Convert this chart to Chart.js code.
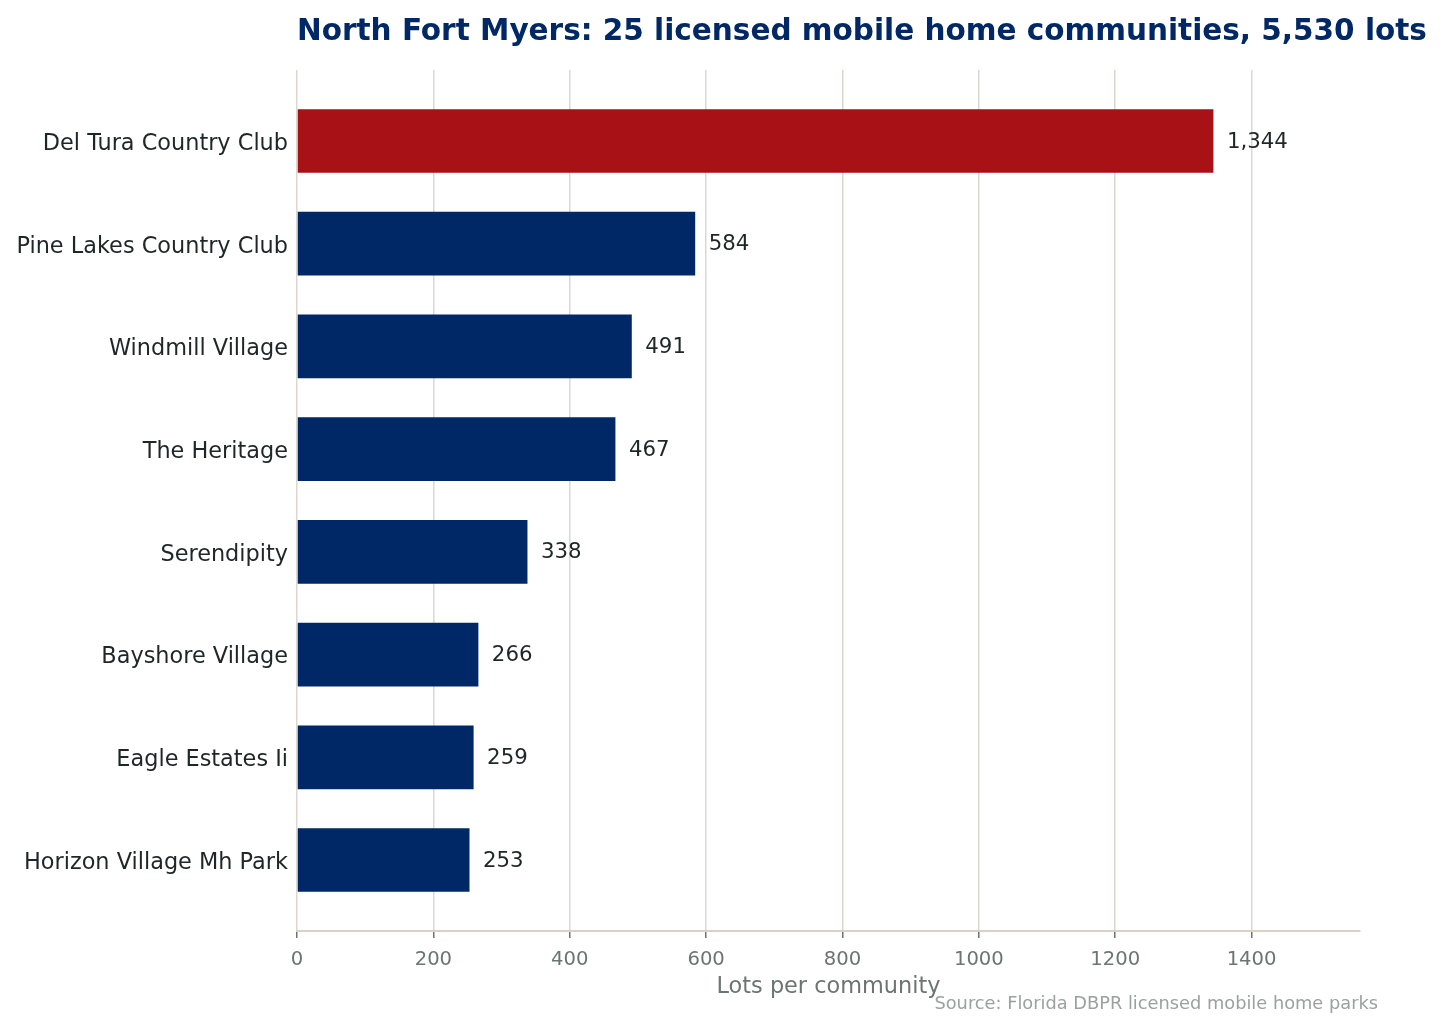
<!DOCTYPE html>
<html>
<head>
<meta charset="utf-8">
<script src="https://cdn.jsdelivr.net/npm/chart.js@4.4.1/dist/chart.umd.min.js"></script>
<style>
  html, body { margin: 0; padding: 0; background: #fff; }
  #wrap { width: 1443px; height: 1030px; position: relative; }
</style>
</head>
<body>
<div id="wrap"><canvas id="myCanvas"></canvas></div>
<script>
// communities, largest first
const communities = [
  "Del Tura Country Club",
  "Pine Lakes Country Club",
  "Windmill Village",
  "The Heritage",
  "Serendipity",
  "Bayshore Village",
  "Eagle Estates Ii",
  "Horizon Village Mh Park"
];
const lots = [1344, 584, 491, 467, 338, 266, 259, 253];
const xTicks = [0, 200, 400, 600, 800, 1000, 1200, 1400];

const titleText = "North Fort Myers: 25 licensed mobile home communities, 5,530 lots";
const xTitle = "Lots per community";
const sourceText = "Source: Florida DBPR licensed mobile home parks";

const NAVY = "#012866";
const RED = "#a81116";
const FONT = "'DejaVu Sans', 'Liberation Sans', sans-serif";

// bar value labels + title / axis title / source
const extras = {
  id: "extras",
  afterDatasetsDraw(chart) {
    const ctx = chart.ctx;
    const meta = chart.getDatasetMeta(0);
    ctx.save();
    ctx.font = "21.3px " + FONT;
    ctx.fillStyle = "#1f2626";
    ctx.textAlign = "left";
    ctx.textBaseline = "middle";
    meta.data.forEach((bar, i) => {
      ctx.fillText(lots[i].toLocaleString("en-US"), bar.x + 13.5, bar.y + 1);
    });
    ctx.restore();
  },
  afterDraw(chart) {
    const ctx = chart.ctx;
    const area = chart.chartArea;
    ctx.save();
    ctx.textBaseline = "alphabetic";

    ctx.font = "bold 29.5px " + FONT;
    ctx.fillStyle = NAVY;
    ctx.textAlign = "left";
    ctx.fillText(titleText, area.left, 40);

    ctx.font = "22.4px " + FONT;
    ctx.fillStyle = "#6b7572";
    ctx.textAlign = "center";
    ctx.fillText(xTitle, (area.left + area.right) / 2, 993);

    ctx.font = "17.8px " + FONT;
    ctx.fillStyle = "#9aa19e";
    ctx.textAlign = "right";
    ctx.fillText(sourceText, 1378, 1009);
    ctx.restore();
  }
};

const ctx = document.getElementById("myCanvas").getContext("2d");
new Chart(ctx, {
  type: "bar",
  data: {
    datasets: [
      {
        data: lots.map((v, i) => ({ x: v, y: i })),
        backgroundColor: (c) => (c.dataIndex === 0 ? RED : NAVY),
        borderWidth: 0,
        barPercentage: 0.62,
        categoryPercentage: 1
      }
    ]
  },
  options: {
    indexAxis: "y",
    responsive: true,
    maintainAspectRatio: false,
    devicePixelRatio: 1,
    animation: false,
    layout: { padding: { top: 70, right: 83, left: 0, bottom: 0 } },
    plugins: {
      legend: { display: false },
      tooltip: { enabled: false },
      title: { display: false }
    },
    scales: {
      x: {
        type: "linear",
        min: 0,
        max: 1559,
        bounds: "data",
        afterBuildTicks: (s) => { s.ticks = xTicks.map((v) => ({ value: v })); },
        afterFit: (s) => { s.height = 99; },
        grid: {
          color: "#dcd8d0",
          lineWidth: 1.5,
          drawTicks: true,
          tickLength: 7,
          tickColor: "#6b7572",
          tickWidth: 1.5
        },
        border: { display: true, color: "#d6d2c8", width: 2 },
        ticks: {
          color: "#6b7572",
          font: { family: FONT, size: 19.6 },
          padding: 10,
          maxRotation: 0,
          autoSkip: false,
          callback: (v) => String(v)
        }
      },
      y: {
        type: "linear",
        reverse: true,
        offset: false,
        min: -0.691,
        max: 7.691,
        bounds: "data",
        // labels sit a few px below bar centre, like the source
        afterBuildTicks: (s) => { s.ticks = communities.map((_, i) => ({ value: i + 0.03 })); },
        afterFit: (s) => { s.width = 297; },
        grid: { display: false, drawTicks: false, offset: false },
        border: { display: false },
        ticks: {
          color: "#1f2626",
          font: { family: FONT, size: 22.4 },
          padding: 9,
          autoSkip: false,
          callback: (v) => communities[Math.round(v)] ?? ""
        }
      }
    }
  },
  plugins: [extras]
});
</script>
</body>
</html>
